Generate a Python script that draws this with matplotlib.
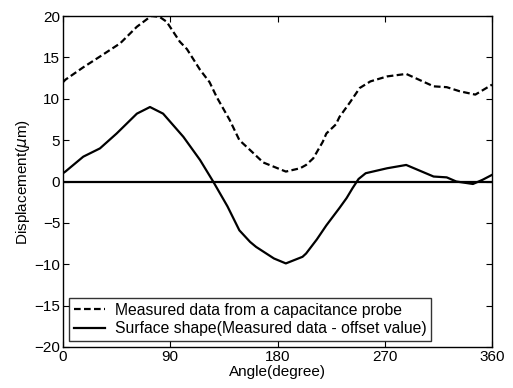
import numpy as np
import matplotlib
matplotlib.use("Agg")
import matplotlib.pyplot as plt

# values
measured_deg = [0, 2, 17, 31, 48, 62, 74, 81, 87, 98, 104, 115, 123, 129, 140, 148, 157,
                168, 187, 199, 204, 210, 218, 221, 229, 232, 241, 249, 258, 272, 288,
                311, 322, 333, 346, 360]
measured_um = [12.0, 12.3, 13.8, 15.1, 16.7, 18.7, 20.0, 19.9, 19.3, 16.9, 16.0, 13.5,
               12.0, 10.2, 7.4, 5.0, 3.8, 2.3, 1.2, 1.6, 2.0, 2.8, 4.8, 5.8, 6.9, 7.8,
               9.6, 11.3, 12.1, 12.7, 13.0, 11.5, 11.4, 10.9, 10.5, 11.7]

surface_deg = [0, 2, 17, 31, 45, 62, 73, 84, 101, 115, 126, 138, 148, 157, 162, 177,
               187, 201, 204, 213, 221, 232, 238, 243, 248, 254, 272, 288, 311, 322,
               330, 344, 352, 360]
surface_um = [1.0, 1.2, 3.0, 4.0, 5.8, 8.2, 9.0, 8.2, 5.4, 2.6, 0.0, -3.0, -5.9, -7.3,
              -7.9, -9.3, -9.9, -9.1, -8.7, -7.0, -5.3, -3.2, -2.0, -0.8, 0.3, 1.0, 1.6,
              2.0, 0.6, 0.5, 0.0, -0.3, 0.2, 0.8]

xticks = [0, 90, 180, 270, 360]
yticks = [-20, -15, -10, -5, 0, 5, 10, 15, 20]

plt.rcParams['font.family'] = ['Liberation Sans', 'DejaVu Sans']
plt.rcParams['font.size'] = 11

fig = plt.figure(figsize=(5.13, 3.88), dpi=100)
ax = fig.add_axes([63/513, 1 - 347/388, (492-63)/513, (347-16)/388])

ax.plot(measured_deg, measured_um, 'k--', lw=1.6, dashes=(3, 1.5),
        label='Measured data from a capacitance probe')
ax.plot(surface_deg, surface_um, 'k-', lw=1.6,
        label='Surface shape(Measured data - offset value)')
ax.plot([0, 360], [0, 0], 'k-', lw=1.6)

ax.set_xlim(0, 360)
ax.set_ylim(-20, 20)
ax.set_xticks(xticks)
ax.set_yticks(yticks)
ax.tick_params(direction='in', top=True, right=True, length=4, labelsize=11, pad=2)
for s in ax.spines.values():
    s.set_linewidth(1.0)

ax.set_xlabel('Angle(degree)', fontsize=11, labelpad=1)
ax.set_ylabel(r'Displacement($\mu$m)', fontsize=11, labelpad=2)

leg = ax.legend(loc='lower left', fontsize=11.3, frameon=True, fancybox=False,
                edgecolor='k', borderpad=0.3, labelspacing=0.2, handlelength=2.0,
                handletextpad=0.6, borderaxespad=0.4)
leg.get_frame().set_linewidth(1.0)

fig.savefig('out.png', dpi=100)
